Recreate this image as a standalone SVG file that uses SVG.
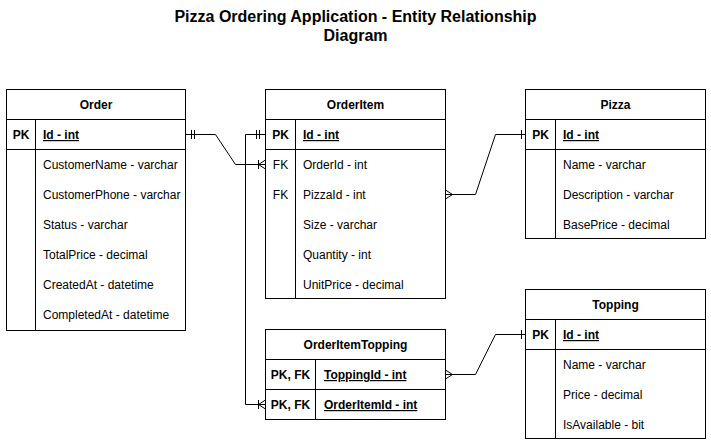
<svg xmlns="http://www.w3.org/2000/svg" width="711" height="445" viewBox="0 0 711 445">
<style>
.box{fill:#fff;stroke:#000;stroke-width:1}
.ln{stroke:#000;stroke-width:1;fill:none}
text{font-family:"Liberation Sans",Arial,Helvetica,sans-serif;font-size:12px;fill:#000}
.hd{font-weight:bold;text-anchor:middle}
.key{font-weight:bold;text-anchor:middle}
.fk{text-anchor:middle}
.pk{font-weight:bold;text-decoration:underline}
.title{font-size:16px;font-weight:bold;text-anchor:middle}
.conn{stroke:#000;stroke-width:1;fill:none}
</style>
<defs>
<marker id="mandOne" markerUnits="userSpaceOnUse" viewBox="-15 -8 16 16" refX="0" refY="0" markerWidth="16" markerHeight="16" orient="auto-start-reverse" overflow="visible">
<path d="M-6,-4.5V4.5M-9,-4.5V4.5" stroke="#000" stroke-width="1" fill="none"/>
</marker>
<marker id="one" markerUnits="userSpaceOnUse" viewBox="-15 -8 16 16" refX="0" refY="0" markerWidth="16" markerHeight="16" orient="auto-start-reverse" overflow="visible">
<path d="M-4,-4.5V4.5" stroke="#000" stroke-width="1" fill="none"/>
</marker>
<marker id="mandMany" markerUnits="userSpaceOnUse" viewBox="-15 -8 16 16" refX="0" refY="0" markerWidth="16" markerHeight="16" orient="auto-start-reverse" overflow="visible">
<path d="M-7,-4.5V4.5M-7,0L0,-4.5M-7,0L0,4.5" stroke="#000" stroke-width="1" fill="none"/>
</marker>
<marker id="many" markerUnits="userSpaceOnUse" viewBox="-15 -8 16 16" refX="0" refY="0" markerWidth="16" markerHeight="16" orient="auto-start-reverse" overflow="visible">
<path d="M-7,0L0,-4.5M-7,0L0,4.5" stroke="#000" stroke-width="1" fill="none"/>
</marker>
</defs>
<rect width="711" height="445" fill="#fff"/>
<g id="title">
<text class="title" x="355.5" y="22">Pizza Ordering Application - Entity Relationship</text>
<text class="title" x="355.5" y="41">Diagram</text>
</g>
<g id="order">
<rect class="box" x="6.5" y="89.5" width="179" height="241"/>
<path class="ln" d="M6.5,119.5H185.5M6.5,149.5H185.5M35.5,119.5V330.5"/>
<text class="hd" x="96" y="109">Order</text>
<text class="key" x="21" y="139">PK</text>
<text class="pk" x="43" y="139">Id - int</text>
<text x="43" y="169">CustomerName - varchar</text>
<text x="43" y="199">CustomerPhone - varchar</text>
<text x="43" y="229">Status - varchar</text>
<text x="43" y="259">TotalPrice - decimal</text>
<text x="43" y="289">CreatedAt - datetime</text>
<text x="43" y="319">CompletedAt - datetime</text>
</g>
<g id="orderitem">
<rect class="box" x="265.5" y="89.5" width="180" height="209"/>
<path class="ln" d="M265.5,119.5H445.5M265.5,149.5H445.5M295.5,119.5V298.5"/>
<text class="hd" x="355.5" y="109">OrderItem</text>
<text class="key" x="280.5" y="139">PK</text>
<text class="pk" x="303" y="139">Id - int</text>
<text class="fk" x="280.5" y="169">FK</text>
<text x="303" y="169">OrderId - int</text>
<text class="fk" x="280.5" y="199">FK</text>
<text x="303" y="199">PizzaId - int</text>
<text x="303" y="229">Size - varchar</text>
<text x="303" y="259">Quantity - int</text>
<text x="303" y="289">UnitPrice - decimal</text>
</g>
<g id="pizza">
<rect class="box" x="525.5" y="89.5" width="180" height="149"/>
<path class="ln" d="M525.5,119.5H705.5M525.5,149.5H705.5M555.5,119.5V238.5"/>
<text class="hd" x="615.5" y="109">Pizza</text>
<text class="key" x="540.5" y="139">PK</text>
<text class="pk" x="563" y="139">Id - int</text>
<text x="563" y="169">Name - varchar</text>
<text x="563" y="199">Description - varchar</text>
<text x="563" y="229">BasePrice - decimal</text>
</g>
<g id="topping">
<rect class="box" x="525.5" y="289.5" width="180" height="149"/>
<path class="ln" d="M525.5,319.5H705.5M525.5,349.5H705.5M555.5,319.5V438.5"/>
<text class="hd" x="615.5" y="309">Topping</text>
<text class="key" x="540.5" y="339">PK</text>
<text class="pk" x="563" y="339">Id - int</text>
<text x="563" y="369">Name - varchar</text>
<text x="563" y="399">Price - decimal</text>
<text x="563" y="429">IsAvailable - bit</text>
</g>
<g id="orderitemtopping">
<rect class="box" x="265.5" y="329.5" width="180" height="90"/>
<path class="ln" d="M265.5,359.5H445.5M265.5,389.5H445.5M315.5,359.5V419.5"/>
<text class="hd" x="355.5" y="349">OrderItemTopping</text>
<text class="key" x="290.5" y="379">PK, FK</text>
<text class="pk" x="324" y="379">ToppingId - int</text>
<text class="key" x="290.5" y="409">PK, FK</text>
<text class="pk" x="324" y="409">OrderItemId - int</text>
</g>
<g id="connectors">
<path class="conn" d="M185.5,134.5H215.5L235.5,164.5H265.5" marker-start="url(#mandOne)" marker-end="url(#mandMany)"/>
<path class="conn" d="M265.5,134.5H245.5V404.5H265.5" marker-start="url(#mandOne)" marker-end="url(#mandMany)"/>
<path class="conn" d="M525.5,134.5H495.5L475.5,194.5H445.5" marker-start="url(#one)" marker-end="url(#many)"/>
<path class="conn" d="M525.5,334.5H495.5L475.5,374.5H445.5" marker-start="url(#one)" marker-end="url(#many)"/>
</g>
</svg>
